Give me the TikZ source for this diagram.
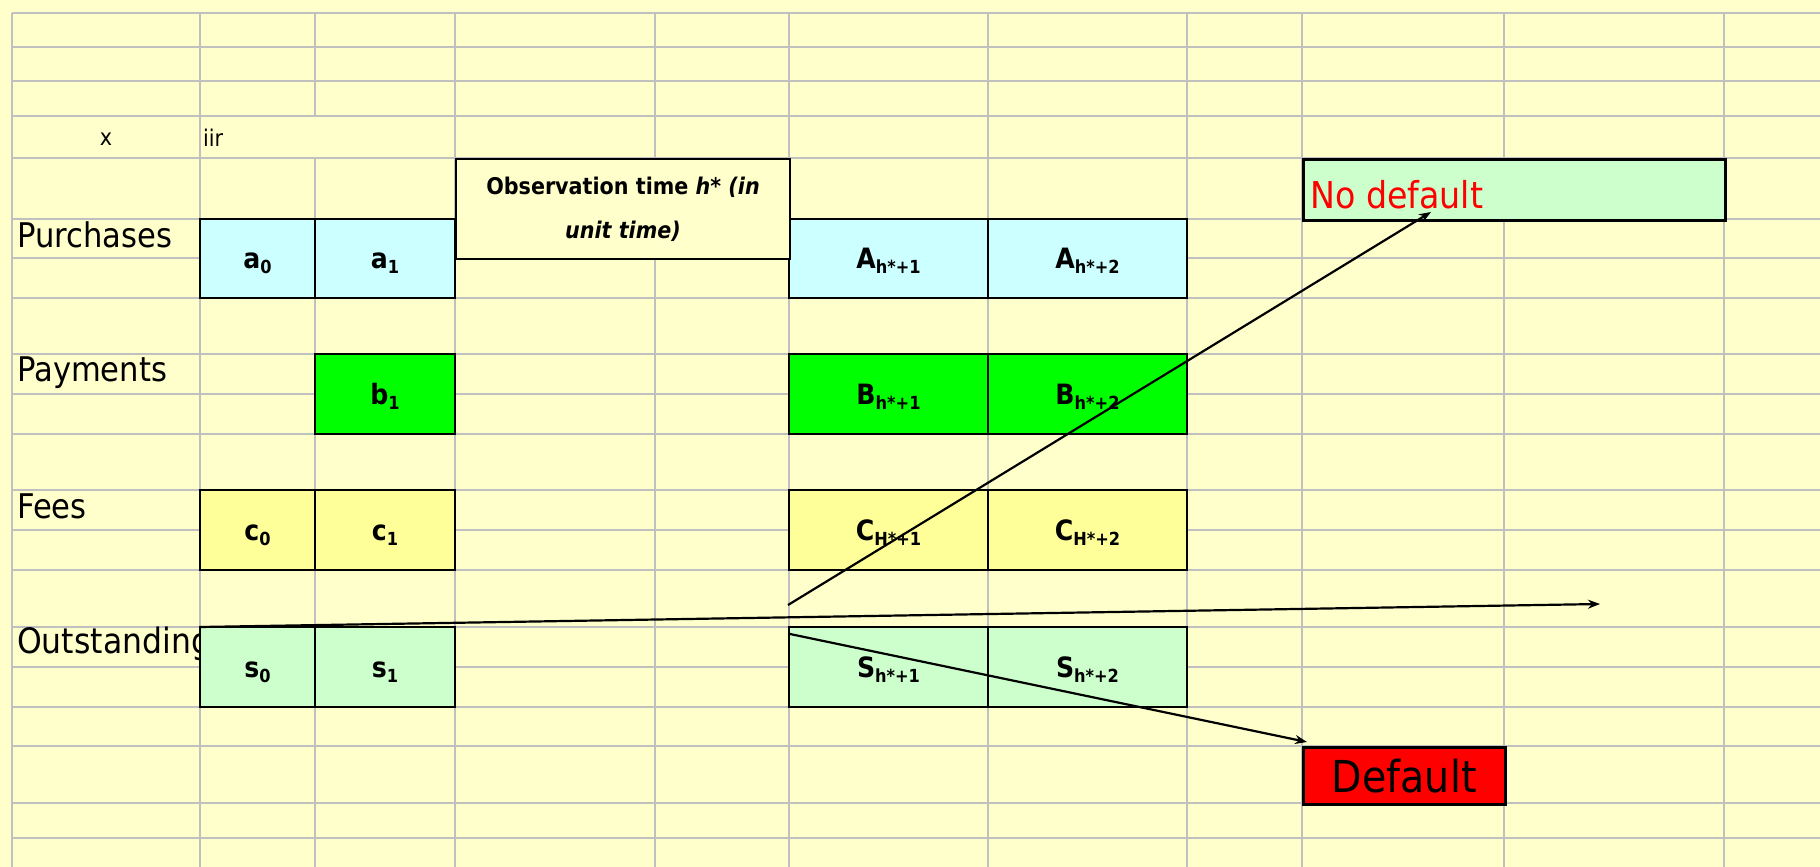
\documentclass[tikz,border=0pt]{standalone}
\usepackage{fontspec}
\setmainfont{DejaVu Sans}[FakeStretch=0.9]
\usetikzlibrary{arrows.meta}

\definecolor{sheet}{HTML}{FFFFCC}
\definecolor{gridgray}{HTML}{C0C0C0}
\definecolor{buycyan}{HTML}{CCFFFF}
\definecolor{paygreen}{HTML}{00FF00}
\definecolor{feeyellow}{HTML}{FFFF99}
\definecolor{owedgreen}{HTML}{CCFFCC}
\definecolor{alarmred}{HTML}{FF0000}

% lowered index inside a cell
\newcommand{\cellsub}[1]{\raisebox{-5pt}{\fontsize{18}{18}\selectfont #1}}

\begin{document}
\begin{tikzpicture}[x=1pt,y=-1pt,
  gridline/.style={gridgray, line width=2.5pt, line cap=square},
  cell/.style={draw=black, line width=2.2pt, anchor=north west, inner sep=0pt,
    outer sep=0pt, minimum height=80pt, text height=30pt, text depth=10pt,
    font=\fontsize{28}{28}\selectfont\bfseries},
  rowlabel/.style={anchor=base west, inner sep=0pt, font=\fontsize{34}{34}\selectfont},
  plain/.style={inner sep=0pt, font=\fontsize{23}{23}\selectfont},
  flow/.style={line width=2.2pt, -{Stealth[length=12pt,width=9pt]}}
]
% sheet background
\fill[sheet] (0,0) rectangle (1820,867);
\useasboundingbox (0,0) rectangle (1820,867);

% spreadsheet grid
\foreach \y in {13,47,81,116,158,219,258,298,354,394,434,490,530,570,627,667,707,746,803,838}
  \draw[gridline] (12,\y) -- (1820,\y);
\foreach \x in {12,200,455,655,789,988,1187,1302,1504,1724}
  \draw[gridline] (\x,13) -- (\x,867);
\draw[gridline] (315,13) -- (315,116);
\draw[gridline] (315,158) -- (315,867);

% header texts
\node[plain, anchor=base] (xmark) at (106,145) {x};
\node[plain, anchor=base west] (iir) at (203,146) {iir};

% row labels
\node[rowlabel] (lblbuy) at (17,247) {Purchases};
\node[rowlabel] (lblpay) at (17,381) {Payments};
\node[rowlabel] (lblfee) at (17,518) {Fees};
\node[rowlabel, font=\fontsize{35}{35}\selectfont] (lblowe) at (17,653) {Outstanding};

% purchases
\node[cell, fill=buycyan, minimum width=115pt, minimum height=79pt] (a0) at (200,219) {a\cellsub{0}};
\node[cell, fill=buycyan, minimum width=140pt, minimum height=79pt] (a1) at (315,219) {a\cellsub{1}};
\node[cell, fill=buycyan, minimum width=199pt, minimum height=79pt] (A1) at (789,219) {A\cellsub{h*+1}};
\node[cell, fill=buycyan, minimum width=199pt, minimum height=79pt] (A2) at (988,219) {A\cellsub{h*+2}};

% payments
\node[cell, fill=paygreen, minimum width=140pt] (b1) at (315,354) {b\cellsub{1}};
\node[cell, fill=paygreen, minimum width=199pt] (B1) at (789,354) {B\cellsub{h*+1}};
\node[cell, fill=paygreen, minimum width=199pt] (B2) at (988,354) {B\cellsub{h*+2}};

% fees
\node[cell, fill=feeyellow, minimum width=115pt] (c0) at (200,490) {c\cellsub{0}};
\node[cell, fill=feeyellow, minimum width=140pt] (c1) at (315,490) {c\cellsub{1}};
\node[cell, fill=feeyellow, minimum width=199pt] (C1) at (789,490) {C\cellsub{H*+1}};
\node[cell, fill=feeyellow, minimum width=199pt] (C2) at (988,490) {C\cellsub{H*+2}};

% outstanding balance
\node[cell, fill=owedgreen, minimum width=115pt] (s0) at (200,627) {s\cellsub{0}};
\node[cell, fill=owedgreen, minimum width=140pt] (s1) at (315,627) {s\cellsub{1}};
\node[cell, fill=owedgreen, minimum width=199pt] (S1) at (789,627) {S\cellsub{h*+1}};
\node[cell, fill=owedgreen, minimum width=199pt] (S2) at (988,627) {S\cellsub{h*+2}};

% observation window
\node[draw=black, line width=2pt, fill=sheet, anchor=north west, inner sep=0pt,
  minimum width=334pt, minimum height=100pt, align=center,
  font=\fontsize{23}{44}\selectfont\bfseries] (obs) at (455,158)
  {Observation time \textit{h* (in}\\\textit{unit time)}};

% outcomes
\node[draw=black, line width=2.5pt, fill=owedgreen, anchor=north west, inner sep=0pt,
  minimum width=422pt, minimum height=61pt] (nodef) at (1302,158) {};
\node[anchor=base west, inner sep=0pt, text=alarmred,
  font=\fontsize{37}{37}\selectfont] (nodeftext) at (1310,208) {No default};
\node[draw=black, line width=2.5pt, fill=alarmred, anchor=north west, inner sep=0pt,
  minimum width=202pt, minimum height=57pt,
  font=\fontsize{44}{44}\selectfont] (def) at (1302,746) {Default};

% paths of the balance
\coordinate (riseStart) at (788,605);
\coordinate (riseEnd) at (1431,212);
\coordinate (flatEnd) at (1600,604);
\coordinate (fallStart) at (790,634);
\coordinate (fallEnd) at (1307,742);
\draw[flow] (riseStart) -- (riseEnd);
\draw[flow] (s0.north west) -- (flatEnd);
\draw[flow] (fallStart) -- (fallEnd);
\end{tikzpicture}
\end{document}
